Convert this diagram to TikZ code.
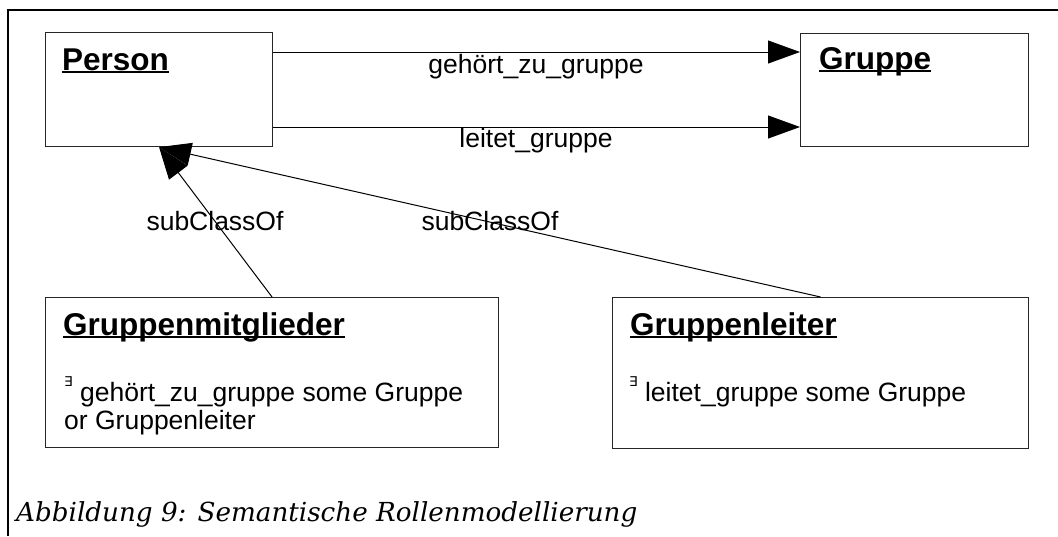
\documentclass[tikz,border=0pt]{standalone}
\usepackage{fontspec}
\setmainfont{Liberation Sans}
\newfontfamily\capfont{DejaVu Serif}
\newfontfamily\symfont{DejaVu Sans}
\usetikzlibrary{arrows.meta}

% underlined class name, rule drawn through the descenders
\newcommand\ultitle[1]{\setbox0\hbox{#1}\rlap{\rule[-3.2pt]{\wd0}{1.8pt}}\box0}
% small raised existential quantifier
\newcommand\exq{\raisebox{15pt}{\symfont\fontsize{13.5}{14}\selectfont ∃}}

\tikzset{
  cls/.style={draw=black!85, line width=1.1pt, fill=white, rectangle, inner sep=0pt, anchor=north west},
  title/.style={inner sep=0pt, anchor=base west, font=\fontsize{31.5}{36}\selectfont\bfseries},
  body/.style={inner sep=0pt, anchor=base west, font=\fontsize{26.5}{30}\selectfont},
  lbl/.style={inner sep=0pt, anchor=base, font=\fontsize{26.5}{30}\selectfont},
  assoc/.style={line width=1pt, -{Triangle[length=32pt,width=23pt]}},
}

\begin{document}
\begin{tikzpicture}[x=1pt, y=-1pt]
\useasboundingbox (0,0) rectangle (1058,536);

% frame
\draw[line width=1.5pt] (8,536) -- (8,10) -- (1058,10);

% classes
\node[cls, minimum width=227pt, minimum height=114pt] (person) at (45,32) {};
\node[cls, minimum width=228pt, minimum height=113pt] (gruppe) at (800,33) {};
\node[cls, minimum width=453pt, minimum height=150pt] (gm) at (45,297) {};
\node[cls, minimum width=416pt, minimum height=151pt] (gl) at (612,297) {};

\node[title] (person-title) at (62,70) {\ultitle{Person}};
\node[title] (gruppe-title) at (819,69) {\ultitle{Gruppe}};
\node[title] (gm-title) at (63,335) {\ultitle{Gruppenmitglieder}};
\node[title] (gl-title) at (630,335) {\ultitle{Gruppenleiter}};

\node[body] (gm-line1) at (64,401) {\exq\ gehört\_zu\_gruppe some Gruppe};
\node[body] (gm-line2) at (64,429) {or Gruppenleiter};
\node[body] (gl-line1) at (629,401) {\exq\ leitet\_gruppe some Gruppe};

% associations
\draw[assoc] (person.east |- 0,52) -- (gruppe.west |- 0,52);
\draw[assoc] (person.east |- 0,127) -- (gruppe.west |- 0,127);
\node[lbl] (gz-label) at (536,73) {gehört\_zu\_gruppe};
\node[lbl] (lg-label) at (536,147) {leitet\_gruppe};

% subclass relations
\draw[assoc] (gm.north) -- (person.south);
\draw[assoc] (gl.north) -- (person.south);
\node[lbl] (sub1-label) at (215,230) {subClassOf};
\node[lbl] (sub2-label) at (490,230) {subClassOf};

% caption
\node[inner sep=0pt, anchor=base west] (caption) at (16,521)
  {\capfont\itshape\fontsize{26.2}{30}\selectfont Abbildung 9: Semantische Rollenmodellierung};
\end{tikzpicture}
\end{document}
